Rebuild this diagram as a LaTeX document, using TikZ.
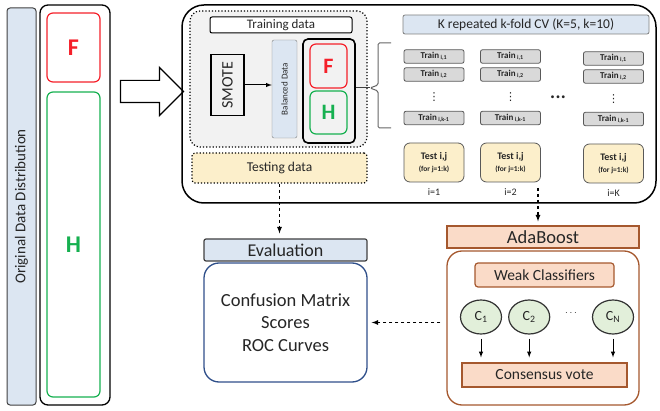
\documentclass[tikz,border=0pt]{standalone}
\usepackage{fontspec}
\setmainfont{Carlito}
\newfontfamily\symfont{DejaVu Sans}
\usepackage{tikz}
\usetikzlibrary{positioning,shapes.geometric,shapes.arrows}
\definecolor{paleblue}{HTML}{DCE6F2}
\definecolor{fred}{HTML}{F5202A}
\definecolor{fgreen}{HTML}{16B050}
\definecolor{regiongray}{HTML}{F2F2F2}
\definecolor{traingray}{HTML}{D9D9D9}
\definecolor{boxgray}{HTML}{595959}
\definecolor{testyellow}{HTML}{FCEFCB}
\definecolor{evalblue}{HTML}{2F4F8A}
\definecolor{peachfill}{HTML}{FADBC8}
\definecolor{brownline}{HTML}{A5582E}
\definecolor{palegreen}{HTML}{E2EFDA}
\tikzset{basic/.style={draw,inner sep=0pt,align=center}}
\tikzset{header/.style={basic,fill=paleblue,draw=black!75,rounded corners=2pt,line width=1pt}}
\tikzset{letterbox/.style={basic,line width=1.2pt,rounded corners=6pt,font=\fontsize{22}{24}\selectfont\bfseries}}
\tikzset{trainbox/.style={basic,fill=traingray,draw=boxgray,rounded corners=2pt,line width=0.8pt,minimum width=60pt,minimum height=13.5pt,font=\fontsize{9}{10}\selectfont\bfseries}}
\tikzset{testbox/.style={basic,fill=testyellow,draw=boxgray,rounded corners=6pt,line width=0.8pt,minimum width=60pt,minimum height=39pt}}
\tikzset{peachbox/.style={basic,fill=peachfill,draw=brownline,line width=1.2pt}}
\tikzset{classifier/.style={basic,ellipse,fill=palegreen,draw=black!80,line width=1.2pt,minimum width=41pt,minimum height=34pt,font=\fontsize{14}{15}\selectfont}}
\tikzset{flow/.style={dashed,->,>=latex,line width=1.2pt}}

\begin{document}
\begin{tikzpicture}[x=1pt,y=-1pt,text=black!85]
    \useasboundingbox (0,0) rectangle (660,411);
    % original data
    \node[basic,fill=paleblue,draw=black!75,line width=1pt,rounded corners=3pt,rotate=90,minimum width=397pt,minimum height=29pt,font=\fontsize{15}{17}\selectfont] (distbar) at (21.5,206.5) {Original Data Distribution};
    \node[basic,line width=1.3pt,rounded corners=8pt,minimum width=70pt,minimum height=400pt] (origdata) at (75,205) {};
    \node[letterbox,draw=fred,text=fred,minimum width=53pt,minimum height=69pt,font=\fontsize{24}{26}\selectfont\bfseries] (origF) at (73.5,47.5) {F};
    \node[letterbox,draw=fgreen,text=fgreen,minimum width=53pt,minimum height=305pt,font=\fontsize{24}{26}\selectfont\bfseries] (origH) at (73.5,244.5) {H};
    \node[single arrow,draw,line width=1.2pt,fill=white,inner xsep=0pt,inner ysep=10.5pt,minimum height=63pt,minimum width=47pt,single arrow head extend=13pt] (toflow) at (146.5,91.5) {};
    % cross validation block
    \node[basic,line width=1.5pt,rounded corners=22pt,minimum width=474pt,minimum height=198pt] (pipeline) at (419,104) {};
    \node[basic,dotted,line width=1.2pt,fill=regiongray,rounded corners=10pt,minimum width=177pt,minimum height=136pt] (training) at (278.5,79) {};
    \node[basic,fill=white,line width=1pt,rounded corners=2pt,minimum width=142pt,minimum height=16pt,font=\fontsize{13}{14}\selectfont] (traininglabel) at (281,25) {Training data};
    \node[basic,line width=1.6pt,rotate=90,minimum width=61pt,minimum height=33pt,font=\fontsize{16}{17}\selectfont] (smote) at (227.5,85) {SMOTE};
    \node[basic,fill=paleblue,draw=gray,rotate=90,rounded corners=2pt,minimum width=98pt,minimum height=25pt,font=\fontsize{9}{10}\selectfont] (balanced) at (284.5,89) {Balanced Data};
        \draw[->,>=latex,line width=1pt] (smote.south) -- (balanced.north |- smote.south);
    \node[basic,line width=1.6pt,rounded corners=5pt,minimum width=52pt,minimum height=104pt] (balbox) at (329,91) {};
    \node[letterbox,draw=fred,text=fred,minimum width=37pt,minimum height=44pt] (balF) at (328.5,66) {F};
    \node[letterbox,draw=fgreen,text=fgreen,minimum width=37pt,minimum height=43pt] (balH) at (328.5,112.5) {H};
    \coordinate (bracetip) at (370,88);
    \draw[black!60,line width=1pt,rounded corners=1.5pt] (391,43) -- (378,43) -- (378,85) -- (bracetip) -- (378,91) -- (378,128) -- (391,128);
        \draw[black!75,line width=1pt] (balbox.east |- bracetip) -- (bracetip);
    \node[basic,dotted,line width=1.2pt,fill=testyellow,rounded corners=3pt,minimum width=175pt,minimum height=30pt,font=\fontsize{13.5}{15}\selectfont] (testing) at (279.5,168) {Testing data};
    \node[header,draw=black!50,line width=0.8pt,minimum width=246pt,minimum height=19pt,font=\fontsize{13.5}{14}\selectfont] (kfold) at (526,24.5) {K repeated k-fold CV (K=5, k=10)};
    \foreach \cx/\dy/\lab [count=\n] in {434/0/1, 510.5/0/2, 613.5/2/K} {
        \node[trainbox] (train\n-1) at (\cx,56.5+\dy) {Train\,\textsubscript{i,1}};
        \node[trainbox] (train\n-2) at (\cx,74.5+\dy) {Train\,\textsubscript{i,2}};
        \node[inner sep=0pt,font=\symfont\fontsize{11}{12}\selectfont] (vdots\n) at (\cx,97+\dy) {⋮};
        \node[trainbox] (train\n-k) at (\cx,118+\dy/2) {Train\,\textsubscript{i,k-1}};
        \node[testbox] (test\n) at (\cx,162.5+\dy/2) {{\fontsize{10}{12}\selectfont\bfseries Test i,j}\\{\fontsize{7.5}{9}\selectfont\bfseries (for j=1:k)}};
        \node[below=5pt of test\n,inner sep=1pt,font=\fontsize{10}{11}\selectfont] (index\n) {i=\lab};
    }
    \node[font=\fontsize{8}{9}\selectfont] (colsdots) at (558,98) {\textbullet\,\textbullet\,\textbullet};
    % evaluation
    \node[header,line width=1.2pt,minimum width=163pt,minimum height=22pt,font=\fontsize{18}{19}\selectfont] (evalhead) at (285.5,250) {Evaluation};
    \node[basic,draw=evalblue,line width=1.3pt,rounded corners=15pt,minimum width=163pt,minimum height=119pt,font=\fontsize{18.5}{22.5}\selectfont] (evalbody) at (285.5,322.5) {Confusion Matrix\\Scores\\ROC Curves};
        \path[draw,flow,shorten >=5pt] (testing.south) -- (testing.south |- evalhead.north);
    % boosting
    \node[peachbox,minimum width=192pt,minimum height=22pt,font=\fontsize{18.5}{19}\selectfont] (adahead) at (543,237) {AdaBoost};
    \node[basic,draw=brownline,line width=1.3pt,rounded corners=15pt,minimum width=192pt,minimum height=154pt] (adabody) at (543,328) {};
    \node[peachbox,rounded corners=3pt,minimum width=139pt,minimum height=24pt,font=\fontsize{15.5}{17}\selectfont] (weak) at (544.5,275) {Weak Classifiers};
    \node[classifier] (c1) at (481,317) {C\textsubscript{1}};
    \node[classifier,right=6pt of c1] (c2) {C\textsubscript{2}};
    \node[classifier] (cN) at (613,317) {C\textsubscript{N}};
    \node (cdots) at (571,313) {$\cdots$};
    \node[peachbox,minimum width=165pt,minimum height=24pt,font=\fontsize{15.5}{17}\selectfont] (vote) at (544.5,375) {Consensus vote};
    \foreach \c in {c1,c2,cN}
        \path[draw,->,>=latex,line width=1pt,shorten <=4pt,shorten >=5pt] (\c.south) -- (\c.south |- vote.north);
    \coordinate (foldsout) at (538,188);
        \path[draw,flow,shorten >=4pt] (foldsout) -- (foldsout |- adahead.north);
        \path[draw,flow,shorten <=6pt,shorten >=4pt] (adabody.west |- evalbody.east) -- (evalbody.east);
\end{tikzpicture}
\end{document}
